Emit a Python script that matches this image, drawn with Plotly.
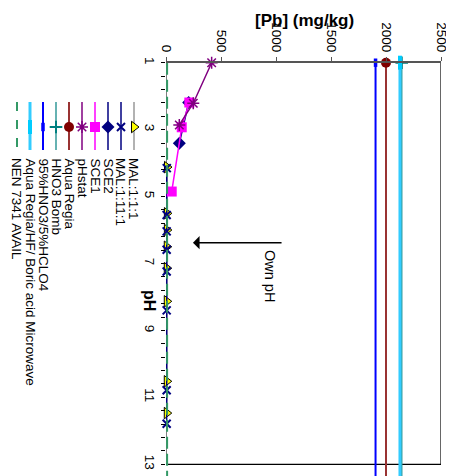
import plotly.graph_objects as go

# The page body adds an 8px margin; lay out pixel positions relative to it.
OFF = 8
W, H = 454 - OFF, 476 - OFF
FONT = "Liberation Sans, Arial, sans-serif"

# ---------------- data ----------------
ph_mal111 = [4.12, 5.50, 6.00, 6.50, 7.14, 8.13, 10.52, 11.47]
pb_mal111 = [9, 8, 8, 7, 7, 7, 7, 7]

ph_mal1111 = [4.15, 5.55, 6.04, 6.59, 7.24, 8.40, 10.79, 11.79]
pb_mal1111 = [7, 6, 6, 6, 6, 6, 6, 6]

ph_sce2 = [2.19, 3.41]
pb_sce2 = [206, 121]

ph_sce1 = [2.19, 2.93, 4.85]
pb_sce1 = [212, 143, 52]

ph_phstat = [1.00, 2.21, 2.86]
pb_phstat = [415, 248, 121]

ph_const = [1, 14]
pb_aqua_regia = [2000, 2000]
pb_hno3_bomb = [2143, 2143]
pb_hno3_hclo4 = [1905, 1905]
pb_ar_hf = [2127, 2127]
pb_nen = [10, 10]

names = ["MAL:1:1:1", "MAL:1:11:1", "SCE2", "SCE1", "pHstat", "Aqua Regia",
         "HNO3 Bomb", "95%HNO3/5%HCLO4", "Aqua Regia/HF/ Boric acid Microwave",
         "NEN 7341 AVAIL"]

pb_ticks = [0, 500, 1000, 1500, 2000, 2500]

# ---------------- styles ----------------
styles = [
    dict(ph=ph_mal111, pb=pb_mal111, lc="#999999", lw=1.5, dash="solid",
         sym="triangle-right", ms=10, mc="#FFFF00", mlc="#000000", mlw=1),
    dict(ph=ph_mal1111, pb=pb_mal1111, lc="#000080", lw=1.5, dash="solid",
         sym="x-thin-open", ms=8, mc="#000080", mlc="#000080", mlw=2),
    dict(ph=ph_sce2, pb=pb_sce2, lc="#000080", lw=1.5, dash="solid",
         sym="diamond", ms=10, mc="#000080", mlc="#000080", mlw=0),
    dict(ph=ph_sce1, pb=pb_sce1, lc="#FF00FF", lw=1.5, dash="solid",
         sym="square", ms=10, mc="#FF00FF", mlc="#FF00FF", mlw=0),
    dict(ph=ph_phstat, pb=pb_phstat, lc="#800080", lw=1.5, dash="solid",
         sym="asterisk-open", ms=10, mc="#800080", mlc="#800080", mlw=1.5),
    dict(ph=ph_const, pb=pb_aqua_regia, lc="#993333", lw=2, dash="solid",
         sym="circle", ms=10, mc="#800000", mlc="#800000", mlw=0),
    dict(ph=ph_const, pb=pb_hno3_bomb, lc="#339999", lw=1.5, dash="solid",
         sym="cross-thin-open", ms=9, mc="#008080", mlc="#008080", mlw=2),
    dict(ph=ph_const, pb=pb_hno3_hclo4, lc="#0000FF", lw=2, dash="solid",
         sym="line-ns-open", ms=6, mc="#0000FF", mlc="#0000FF", mlw=3.5),
    dict(ph=ph_const, pb=pb_ar_hf, lc="#33CCFF", lw=3, dash="solid",
         sym="line-ns-open", ms=10, mc="#00CCFF", mlc="#00CCFF", mlw=4),
    dict(ph=ph_const, pb=pb_nen, lc="#339966", lw=2, dash="12px,5px",
         sym=None, ms=0, mc=None, mlc=None, mlw=0),
]

fig = go.Figure()

for name, s in zip(names, styles):
    mode = "lines+markers" if s["sym"] else "lines"
    marker = dict(symbol=s["sym"], size=s["ms"], color=s["mc"],
                  line=dict(color=s["mlc"], width=s["mlw"])) if s["sym"] else None
    fig.add_trace(go.Scatter(
        x=s["pb"], y=s["ph"], mode=mode, name=name, showlegend=False,
        line=dict(color=s["lc"], width=s["lw"], dash=s["dash"]),
        marker=marker, xaxis="x", yaxis="y", cliponaxis=False))

# ---------------- manual rotated legend (pixel overlay axes) ----------------
annotations = []
for i, (name, s) in enumerate(zip(names, styles)):
    cx = 134 - 13.0 * i - OFF
    ldash = "9px,9px" if s["dash"] != "solid" else "solid"
    fig.add_trace(go.Scatter(
        x=[cx, cx], y=[102 - OFF, 150 - OFF], mode="lines", showlegend=False,
        line=dict(color=s["lc"], width=s["lw"], dash=ldash),
        xaxis="x2", yaxis="y2", hoverinfo="skip"))
    if s["sym"]:
        fig.add_trace(go.Scatter(
            x=[cx], y=[127 - OFF], mode="markers", showlegend=False,
            marker=dict(symbol=s["sym"], size=s["ms"], color=s["mc"],
                        line=dict(color=s["mlc"], width=s["mlw"])),
            xaxis="x2", yaxis="y2", hoverinfo="skip"))
    annotations.append(dict(
        text=name, x=cx, y=156 - OFF, xref="x2", yref="y2", textangle=90,
        xanchor="center", yanchor="top", showarrow=False,
        font=dict(family=FONT, size=13.5, color="black")))

# axis titles
annotations.append(dict(
    text="<b>[Pb] (mg/kg)</b>", x=304 - OFF, y=20 - OFF, xref="x2", yref="y2",
    showarrow=False, xanchor="center", yanchor="middle",
    font=dict(family=FONT, size=17, color="black")))
annotations.append(dict(
    text="<b>pH</b>", x=150 - OFF, y=300 - OFF, xref="x2", yref="y2",
    textangle=90, showarrow=False, xanchor="center", yanchor="middle",
    font=dict(family=FONT, size=16, color="black")))

# Own pH arrow and text
annotations.append(dict(
    text="", x=245, y=6.38, xref="x", yref="y", ax=1064, ay=6.38,
    axref="x", ayref="y", showarrow=True, arrowhead=1, arrowsize=1.7,
    arrowwidth=1.3, arrowcolor="black"))
annotations.append(dict(
    text="Own pH", x=270 - OFF, y=276 - OFF, xref="x2", yref="y2",
    textangle=90, showarrow=False, xanchor="center", yanchor="middle",
    font=dict(family=FONT, size=14.5, color="black")))

# plot box lines
shapes = [
    dict(type="line", xref="x", yref="y", x0=0, x1=0, y0=1, y1=13,
         line=dict(color="black", width=1), layer="below"),
    dict(type="line", xref="x", yref="y", x0=2500, x1=2500, y0=1, y1=13,
         line=dict(color="black", width=1.2), layer="below"),
    dict(type="line", xref="x", yref="y", x0=0, x1=2500, y0=13, y1=13,
         line=dict(color="black", width=1.2), layer="below"),
]

y_top = 1 - (62.7 - OFF) / H
fig.update_layout(
    width=W, height=H,
    margin=dict(l=0, r=0, t=0, b=0),
    paper_bgcolor="white", plot_bgcolor="rgba(0,0,0,0)",
    showlegend=False,
    font=dict(family=FONT, size=13.5, color="black"),
    xaxis=dict(domain=[(166 - OFF) / W, (441 - OFF) / W], range=[0, 2500],
               side="top", anchor="y", tickvals=pb_ticks, tickangle=90,
               ticks="outside", ticklen=4, tickcolor="#555",
               showline=True, linecolor="#555", linewidth=1.5,
               showgrid=False, zeroline=False, automargin=False,
               tickfont=dict(family=FONT, size=13.5, color="black")),
    yaxis=dict(domain=[0, y_top], range=[13.35, 1], anchor="x",
               tick0=1, dtick=2, tickangle=90, ticks="outside", ticklen=4,
               tickcolor="black",
               minor=dict(tick0=1, dtick=0.4, ticks="outside", ticklen=4,
                          tickcolor="black"),
               showline=False, showgrid=False, zeroline=False,
               automargin=False,
               tickfont=dict(family=FONT, size=13.5, color="black")),
    xaxis2=dict(domain=[0, 1], range=[0, W], anchor="y2", visible=False,
                fixedrange=True),
    yaxis2=dict(domain=[0, 1], range=[H, 0], anchor="x2", visible=False,
                fixedrange=True),
    annotations=annotations,
    shapes=shapes,
)

fig.write_html("out.html")
